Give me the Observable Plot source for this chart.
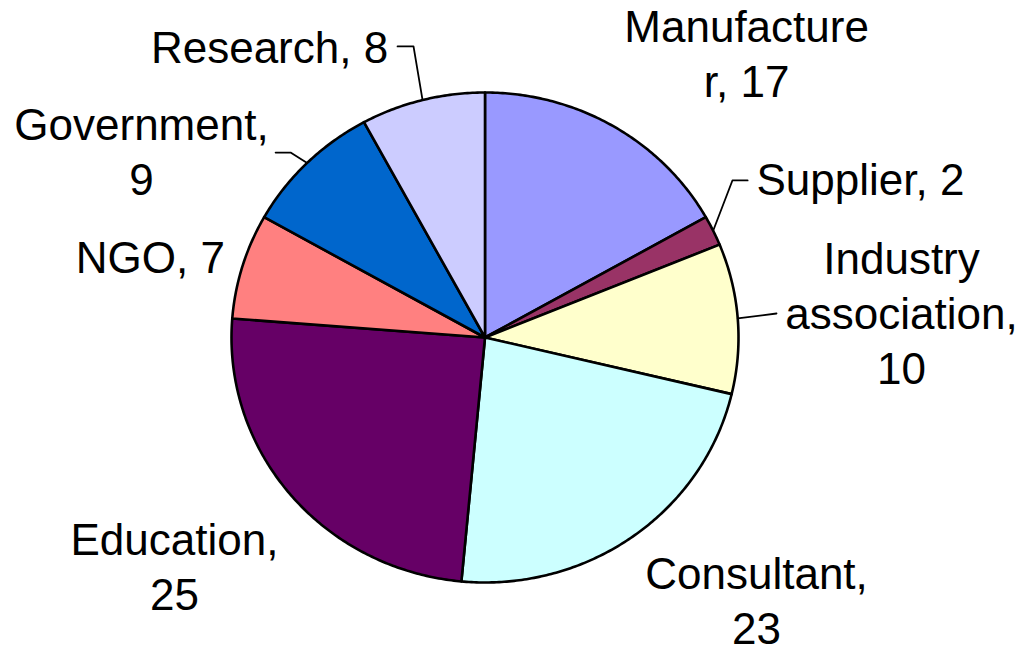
<!DOCTYPE html>
<html>
<head>
<meta charset="utf-8">
<script src="https://cdn.jsdelivr.net/npm/d3@7"></script>
<script src="https://cdn.jsdelivr.net/npm/@observablehq/plot@0.6"></script>
<style>
  html, body { margin: 0; padding: 0; background: #ffffff; }
  #chart svg { display: block; }
</style>
</head>
<body>
<div id="chart"></div>
<script>
// ---- data ----
const categories = ["Manufacturer", "Supplier", "Industry association", "Consultant", "Education", "NGO", "Government", "Research"];
const values = [17, 2, 10, 23, 25, 7, 9, 8];
const labelTexts = ["Manufacture\nr, 17", "Supplier, 2", "Industry\nassociation,\n10", "Consultant,\n23", "Education,\n25", "NGO, 7", "Government,\n9", "Research, 8"];
const colors = ["#9999FF", "#993366", "#FFFFCC", "#CCFFFF", "#660066", "#FF8080", "#0066CC", "#CCCCFF"];

// ---- layout (pie radius = 1 in both directions) ----
const labelPos = [[1.032, 0.980], [1.481, 0.580], [1.643, -0.188], [1.071, -1.249], [-1.225, -1.114], [-1.320, 0.265], [-1.355, 0.580], [-0.850, 1.122]];
const leaderPath = {
  "Research": [[-0.282, 1.188], [-0.345, 1.188]],
  "Government": [[-0.767, 0.755], [-0.826, 0.755]],
  "Supplier": [[0.976, 0.641], [1.036, 0.641]],
  "Industry association": [[1.150, 0.098]]
};

const pie = d3.pie().sort(null).value(d => d.value).startAngle(0).endAngle(2 * Math.PI);
const rows = categories.map((c, i) => ({name: c, value: values[i], color: colors[i], label: labelTexts[i], pos: labelPos[i]}));
const arcs = pie(rows);

// slice outlines: centre then the arc edge, angles from d3.pie
const slicePts = [];
arcs.forEach(a => {
  slicePts.push({name: a.data.name, color: a.data.color, x: 0, y: 0});
  const steps = Math.max(4, Math.ceil((a.endAngle - a.startAngle) / 0.01));
  for (let k = 0; k <= steps; k++) {
    const t = a.startAngle + (a.endAngle - a.startAngle) * k / steps;
    slicePts.push({name: a.data.name, color: a.data.color, x: Math.sin(t), y: Math.cos(t)});
  }
});

// leader lines from slice mid-angle on the rim
const leaderPts = [];
arcs.forEach(a => {
  const p = leaderPath[a.data.name];
  if (!p) return;
  const m = (a.startAngle + a.endAngle) / 2;
  leaderPts.push({name: a.data.name, x: Math.sin(m), y: Math.cos(m)});
  p.forEach(q => leaderPts.push({name: a.data.name, x: q[0], y: q[1]}));
});

const labels = rows.map(r => ({text: r.label, x: r.pos[0], y: r.pos[1]}));

const chart = Plot.plot({
  width: 1028,
  height: 650,
  margin: 0,
  x: {domain: [-1, 1], range: [231, 738], axis: null},
  y: {domain: [-1, 1], range: [582, 92], axis: null},
  style: {background: "#ffffff", fontFamily: "'Liberation Sans', Arial, sans-serif"},
  marks: [
    Plot.line(slicePts, {x: "x", y: "y", z: "name", fill: "color", stroke: "#000000", strokeWidth: 2.6, curve: "linear-closed", strokeLinejoin: "round"}),
    Plot.line(leaderPts, {x: "x", y: "y", z: "name", stroke: "#000000", strokeWidth: 1.8}),
    Plot.text(labels, {x: "x", y: "y", text: "text", fontSize: 44, lineHeight: 1.25, lineAnchor: "bottom", textAnchor: "middle", fill: "#000000", fontFamily: "'Liberation Sans', Arial, sans-serif"})
  ]
});
document.getElementById("chart").appendChild(chart);
</script>
</body>
</html>
